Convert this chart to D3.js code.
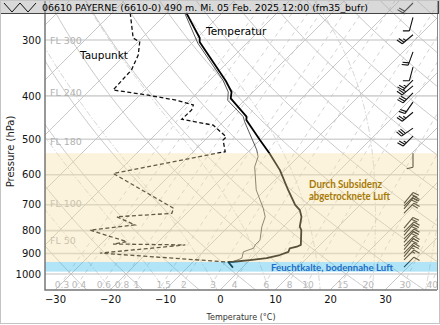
<!DOCTYPE html>
<html>
<head>
<meta charset="utf-8">
<script src="https://cdn.jsdelivr.net/npm/d3@7"></script>
<style>
  html, body { margin: 0; padding: 0; background: #fff; }
  svg { display: block; }
</style>
</head>
<body>
<svg id="chart" width="440" height="325"></svg>
<script>
// ---- Sounding data: Payerne, 05 Feb 2025 12 UTC ----
const pressureTicks = [300, 400, 500, 600, 700, 800, 900, 1000];
const tempTicks = [-30, -20, -10, 0, 10, 20, 30];
const mixingRatios = [0.3, 0.4, 0.6, 0.8, 1, 1.5, 2, 3, 4, 6, 8, 10, 15, 20, 30, 40];
const flLabels = ["FL 300", "FL 240", "FL 180", "FL 100", "FL 50"];
const flPressure = [301, 393, 506, 697, 843];

// temperature (°C)
const tempP = [261, 297, 303, 372, 392, 405, 445, 453, 502, 538, 586, 649, 701, 720, 745, 784, 798, 861, 869, 876, 892, 907, 922, 931, 939, 940, 968];
const tempT = [-56.5, -49.5, -48.8, -36.7, -33.9, -32.9, -26.7, -26.1, -20.0, -15.8, -10.9, -5.8, -1.8, 0.0, 1.5, 3.0, 3.9, 6.5, 6.1, 5.1, 5.5, 4.5, 2.7, 0.0, -2.7, -3.6, -1.7];

// wet-bulb temperature (°C)
const wetP = [261, 305, 369, 392, 409, 445, 457, 528, 547, 576, 649, 713, 745, 784, 840, 861, 876, 892, 922, 939, 940];
const wetT = [-56.8, -48.9, -37.6, -34.5, -33.1, -27.3, -26.1, -18.8, -17.3, -16.1, -11.6, -7.0, -5.1, -3.9, -1.8, -1.8, -1.5, -2.7, -1.8, -2.8, -3.6];

// dew point (°C)
const dewP = [261, 297, 303, 324, 350, 388, 398, 409, 419, 430, 451, 465, 494, 502, 533, 596, 713, 732, 745, 777, 798, 847, 857, 861, 898, 940];
const dewT = [-66.7, -61.6, -59.7, -57.6, -56.1, -55.8, -48.8, -42.4, -38.5, -37.9, -38.0, -31.2, -26.7, -26.7, -24.2, -40.6, -23.3, -22.7, -32.1, -27.3, -34.5, -25.7, -27.8, -14.5, -28.5, -3.8];

// wind profile: pressure (hPa), direction (deg), speed (kt)
const windP = [248, 267, 292, 319, 345, 369, 380, 394, 413, 435, 472, 492, 537, 695, 705, 715, 731, 790, 805, 820, 835, 850, 866, 882, 898, 914, 930, 965];
const windDir = [225, 195, 230, 200, 195, 225, 230, 225, 215, 230, 235, 225, 180, 40, 45, 40, 45, 40, 45, 40, 45, 40, 45, 40, 45, 40, 45, 45];
const windKt = [20, 10, 25, 20, 10, 25, 25, 30, 20, 25, 30, 25, 10, 20, 20, 20, 20, 20, 20, 20, 20, 20, 20, 20, 15, 15, 15, 10];

// ---- Layout ----
const W = 440, H = 325;
const plotL = 45, plotR = 437, plotT = 0, plotB = 290;

const x = d3.scaleLinear().domain([-30, 30]).range([55, 385]);
const y = d3.scaleLog().domain([1000, 300]).range([274, 40]);
// 45° skew: isotherms lean one pixel right per pixel upward
const sx = (T, p) => x(T) + (plotB - y(p));

const svg = d3.select("#chart");
svg.append("rect").attr("width", W).attr("height", H).attr("fill", "#fff");

svg.append("defs").append("clipPath").attr("id", "plotClip")
  .append("rect").attr("x", plotL).attr("y", plotT)
  .attr("width", plotR - plotL).attr("height", plotB - plotT);

const plot = svg.append("g").attr("clip-path", "url(#plotClip)");
const line = d3.line().x(d => d[0]).y(d => d[1]);
const pSamples = d3.range(1100, 230, -5);

// pressure lines
plot.append("g").selectAll("line").data(pressureTicks).join("line")
  .attr("x1", plotL).attr("x2", plotR)
  .attr("y1", d => y(d)).attr("y2", d => y(d))
  .attr("stroke", "#d4d4d4").attr("stroke-width", 1.6);

// isotherms
const isotherms = d3.range(-130, 50, 10);
plot.append("g").selectAll("path").data(isotherms).join("path")
  .attr("d", T => line([[sx(T, 1100), y(1100)], [sx(T, 230), y(230)]]))
  .attr("fill", "none").attr("stroke", "#c2c2c2").attr("stroke-width", 0.9);

// dry adiabats
const dryTheta = d3.range(-30, 210, 10);
plot.append("g").selectAll("path").data(dryTheta).join("path")
  .attr("d", th => line(pSamples.map(p => {
    const T = (th + 273.15) * Math.pow(p / 1000, 0.2857) - 273.15;
    return [sx(T, p), y(p)];
  })))
  .attr("fill", "none").attr("stroke", "#c2c2c2").attr("stroke-width", 0.9);

// moist (pseudo-)adiabats
function moistLapse(Tk, p) {
  const es = 6.112 * Math.exp(17.67 * (Tk - 273.15) / (Tk - 29.65));
  const rs = 0.622 * es / (p - es);
  return (1 / p) * (287.04 * Tk + 2.501e6 * rs) /
    (1005.7 + 2.501e6 * 2.501e6 * rs * 0.622 / (287.04 * Tk * Tk));
}
function moistCurve(T0) {
  const up = [], down = [];
  let T = T0 + 273.15;
  for (let p = 1000; p >= 230; p -= 2) {
    up.push([p, T]);
    const k1 = moistLapse(T, p), k2 = moistLapse(T - k1, p - 2);
    T -= (k1 + k2);
  }
  T = T0 + 273.15;
  for (let p = 1000; p <= 1100; p += 2) {
    down.push([p, T]);
    const k1 = moistLapse(T, p), k2 = moistLapse(T + 2 * k1, p + 2);
    T += (k1 + k2);
  }
  return down.reverse().concat(up).map(([p, Tk]) => [sx(Tk - 273.15, p), y(p)]);
}
const moistStart = d3.range(-25, 45, 10);
plot.append("g").selectAll("path").data(moistStart).join("path")
  .attr("d", T0 => line(moistCurve(T0)))
  .attr("fill", "none").attr("stroke", "#c6c6c6").attr("stroke-width", 0.8)
  .attr("stroke-dasharray", "6,2,1.5,2");

// mixing ratio lines
function dewFromMix(w, p) {
  const e = p * w / (622 + w);
  const l = Math.log(e / 6.112);
  return 243.5 * l / (17.67 - l);
}
plot.append("g").selectAll("path").data(mixingRatios).join("path")
  .attr("d", w => line(pSamples.map(p => [sx(dewFromMix(w, p), p), y(p)])))
  .attr("fill", "none").attr("stroke", "#c6c6c6").attr("stroke-width", 0.8)
  .attr("stroke-dasharray", "4,4");

plot.append("g").selectAll("text").data(mixingRatios).join("text")
  .attr("x", w => sx(dewFromMix(w, 1058), 1058) + 2)
  .attr("y", y(1058) + 3.5)
  .attr("text-anchor", "middle")
  .attr("font-family", "DejaVu Sans").attr("font-size", 9)
  .attr("fill", "#b8b8b8")
  .text(w => String(w));

// flight levels
plot.append("g").selectAll("text").data(flLabels).join("text")
  .attr("x", 50).attr("y", (d, i) => y(flPressure[i]) + 3.5)
  .attr("font-family", "DejaVu Sans").attr("font-size", 9.5)
  .attr("fill", "#b2b2b2")
  .text(d => d);

// profiles
const profile = (P, T) => line(P.map((p, i) => [sx(T[i], p), y(p)]));
plot.append("path").attr("d", profile(wetP, wetT))
  .attr("fill", "none").attr("stroke", "#444").attr("stroke-width", 0.9);
plot.append("path").attr("d", profile(tempP, tempT))
  .attr("fill", "none").attr("stroke", "#000").attr("stroke-width", 1.8)
  .attr("stroke-linejoin", "round");
plot.append("path").attr("d", profile(dewP, dewT))
  .attr("fill", "none").attr("stroke", "#111").attr("stroke-width", 1.3)
  .attr("stroke-dasharray", "4,2.5");

// wind barbs (staff points into the wind, feathers on the left looking downwind)
const barbLen = 14;
function barb(dir, kt) {
  const r = dir * Math.PI / 180;
  const ux = Math.sin(r), uy = -Math.cos(r);
  const px = -uy, py = ux;
  const segs = [];
  segs.push([[0, 0], [ux * barbLen, uy * barbLen]]);
  let s = Math.round(kt / 5) * 5;
  let pos = barbLen;
  const step = 2.4, fh = 0.45 * barbLen, fo = 0.12 * barbLen;
  while (s >= 10) {
    const bx = ux * pos, by = uy * pos;
    segs.push([[bx, by], [bx + px * fh + ux * fo, by + py * fh + uy * fo]]);
    pos -= step; s -= 10;
  }
  if (s >= 5) {
    if (pos === barbLen) pos -= step;
    const bx = ux * pos, by = uy * pos;
    segs.push([[bx, by], [bx + px * fh / 2 + ux * fo / 2, by + py * fh / 2 + uy * fo / 2]]);
  }
  return segs.map(sg => "M" + sg[0].join(",") + "L" + sg[1].join(",")).join("");
}
// southerly staffs hang down-left from their base, northeasterly ones rise to the right
const barbBaseX = dir => (dir > 90 ? 413 : 404);
plot.append("g").selectAll("path").data(windP).join("path")
  .attr("transform", (p, i) => `translate(${barbBaseX(windDir[i])},${y(p)})`)
  .attr("d", (p, i) => barb(windDir[i], windKt[i]))
  .attr("fill", "none").attr("stroke", "#111").attr("stroke-width", 1.1);

// annotated layers (translucent overlays)
plot.append("rect")
  .attr("x", plotL).attr("width", plotR - plotL)
  .attr("y", y(537)).attr("height", y(940) - y(537))
  .attr("fill", "rgb(246,222,162)").attr("fill-opacity", 0.36);
plot.append("rect")
  .attr("x", plotL).attr("width", plotR - plotL)
  .attr("y", y(940)).attr("height", y(988) - y(940))
  .attr("fill", "rgb(51,185,233)").attr("fill-opacity", 0.39);

// axes
const xAxis = svg.append("g").attr("transform", `translate(0,${plotB})`)
  .call(d3.axisBottom(x).tickValues(tempTicks).tickSize(0).tickPadding(6));
xAxis.select(".domain").remove();
xAxis.selectAll("text").attr("font-family", "DejaVu Sans").attr("font-size", 10).attr("fill", "#111");

const yAxis = svg.append("g").attr("transform", `translate(${plotL},0)`)
  .call(d3.axisLeft(y).tickValues(pressureTicks).tickFormat(d3.format("d")).tickSize(0).tickPadding(4));
yAxis.select(".domain").remove();
yAxis.selectAll("text").attr("font-family", "DejaVu Sans").attr("font-size", 10).attr("fill", "#111");

svg.append("path")
  .attr("d", `M${plotL},${plotT}V${plotB}H${plotR}`)
  .attr("fill", "none").attr("stroke", "#777").attr("stroke-width", 1.5);
svg.append("line").attr("x1", plotR + 0.5).attr("x2", plotR + 0.5)
  .attr("y1", plotT).attr("y2", plotB)
  .attr("stroke", "#888").attr("stroke-width", 1);

svg.append("text")
  .attr("transform", `translate(14,${(13 + plotB) / 2}) rotate(-90)`)
  .attr("text-anchor", "middle")
  .attr("font-family", "DejaVu Sans").attr("font-size", 10).attr("fill", "#222")
  .text("Pressure (hPa)");
svg.append("text")
  .attr("x", (plotL + plotR) / 2).attr("y", 320)
  .attr("text-anchor", "middle")
  .attr("font-family", "DejaVu Sans").attr("font-size", 8).attr("fill", "#333")
  .text("Temperature (°C)");

// curve labels
svg.append("text").attr("x", 206).attr("y", 35)
  .attr("font-family", "DejaVu Sans").attr("font-size", 10.5).attr("fill", "#000")
  .text("Temperatur");
svg.append("text").attr("x", 80).attr("y", 59)
  .attr("font-family", "DejaVu Sans").attr("font-size", 10.5).attr("fill", "#000")
  .text("Taupunkt");

// layer annotations
svg.append("text").attr("x", 309).attr("y", 187.5)
  .attr("font-family", "Lato").attr("font-weight", 700).attr("font-size", 10.5)
  .attr("fill", "#a77a06").attr("textLength", 73).attr("lengthAdjust", "spacingAndGlyphs")
  .text("Durch Subsidenz");
svg.append("text").attr("x", 309).attr("y", 199.5)
  .attr("font-family", "Lato").attr("font-weight", 700).attr("font-size", 10.5)
  .attr("fill", "#a77a06").attr("textLength", 81).attr("lengthAdjust", "spacingAndGlyphs")
  .text("abgetrocknete Luft");
svg.append("text").attr("x", 271).attr("y", 270.5)
  .attr("font-family", "Lato").attr("font-weight", 700).attr("font-size", 10)
  .attr("fill", "#1c6ec6").attr("textLength", 122).attr("lengthAdjust", "spacingAndGlyphs")
  .text("Feuchtkalte, bodennahe Luft");

// title bar
svg.append("rect").attr("x", 0.5).attr("y", 0.5).attr("width", 438).attr("height", 13)
  .attr("fill", "rgb(170,170,170)").attr("fill-opacity", 0.45)
  .attr("stroke", "#444").attr("stroke-width", 1);
svg.append("polyline")
  .attr("points", "4,3 12,12 20,3 28,12 36,3")
  .attr("fill", "none").attr("stroke", "#111").attr("stroke-width", 1);
svg.append("text").attr("x", 42).attr("y", 11)
  .attr("font-family", "DejaVu Sans").attr("font-size", 9.5).attr("fill", "#000")
  .attr("textLength", 326).attr("lengthAdjust", "spacingAndGlyphs")
  .text("06610 PAYERNE (6610-0) 490 m. Mi. 05 Feb. 2025 12:00 (fm35_bufr)");

// figure frame
svg.append("rect").attr("x", 0.5).attr("y", 0.5).attr("width", W - 1).attr("height", H - 2)
  .attr("fill", "none").attr("stroke", "#c4c4c4").attr("stroke-width", 1);
</script>
</body>
</html>
